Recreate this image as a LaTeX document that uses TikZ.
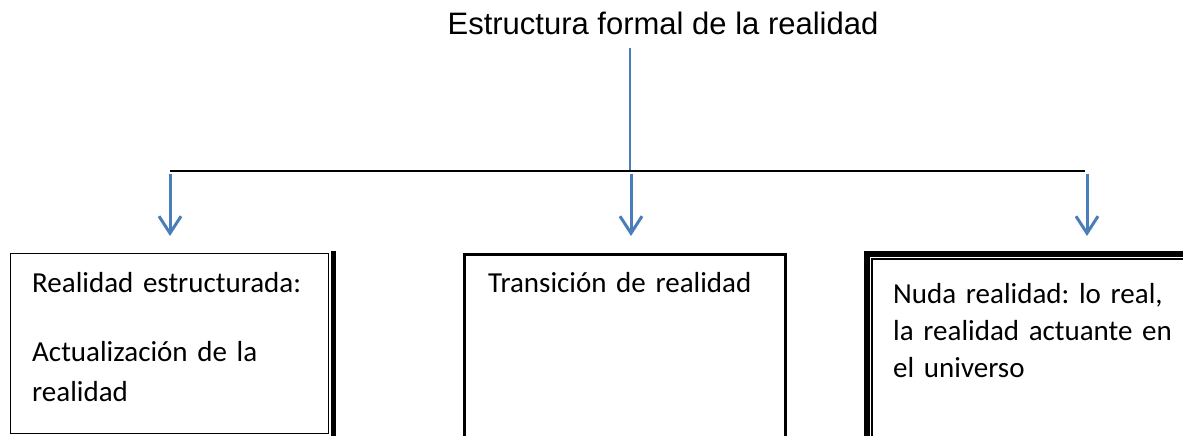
\documentclass[tikz,border=0pt]{standalone}
\usepackage{fontspec}
\setmainfont{Carlito}
\newfontfamily\titlefont{Liberation Sans}
\usetikzlibrary{arrows.meta}
\definecolor{officeblue}{RGB}{74,126,187}
\frenchspacing

\begin{document}
\begin{tikzpicture}[x=1bp, y=-1bp,
  txt/.style = {anchor=base west, inner sep=0pt, text width=300bp, align=left,
                font=\fontsize{29bp}{40bp}\selectfont},
  caja/.style = {draw, anchor=north west, inner sep=0pt, outer sep=0pt},
  flecha/.style = {officeblue, line width=3bp, -{Straight Barb[length=17bp, width=22bp, line width=3bp]}}]
  \useasboundingbox[fill=white] (0,0) rectangle (1183,436);
  \node[font=\titlefont\fontsize{31bp}{31bp}\selectfont, anchor=base, inner sep=0pt] (titulo) at (663,35) {Estructura formal de la realidad};
  \coordinate (m0) at (630,48);
  \coordinate (m1) at (630,170);
  \coordinate (hl) at (170,171);
  \coordinate (hr) at (1085,171);
  \draw[officeblue, line width=1.5bp] (m0)--(m1);
  \draw[line width=2bp] (hl)--(hr);
  \foreach \x/\n in {170/1, 631/2, 1087/3} {
    \coordinate (s\n) at (\x,174);
    \coordinate (e\n) at (\x,236);
    \draw[flecha] (s\n)--(e\n);
  }
  % box 1
  \node[caja, line width=1.5bp, minimum width=318bp, minimum height=180bp] (caja1) at (10.5,253.5) {};
  \draw[line width=5bp] ([xshift=5bp, yshift=2.5bp]caja1.north east)--([xshift=5bp, yshift=-3bp]caja1.south east);
  \node[txt] (t1) at (32,293) {Realidad estructurada:\\[29bp] Actualización de la\\ realidad};
  % box 2
  \node[caja, line width=3bp, minimum width=321bp, minimum height=220bp] (caja2) at (464.5,254.5) {};
  \node[txt] (t2) at (488,293) {Transición de realidad};
  % box 3
  \node[caja, line width=6bp, minimum width=340bp, minimum height=220bp] (caja3) at (867,254) {};
  \draw[line width=1.5bp] ([xshift=5bp, yshift=-5bp]caja3.south west)--([xshift=5bp, yshift=-5bp]caja3.north west)--([xshift=5bp, yshift=-5bp]caja3.north east);
  \node[txt, font=\fontsize{29bp}{37bp}\selectfont] (t3) at (893,304) {Nuda realidad: lo real,\\ la realidad actuante en\\ el universo};
\end{tikzpicture}
\end{document}
